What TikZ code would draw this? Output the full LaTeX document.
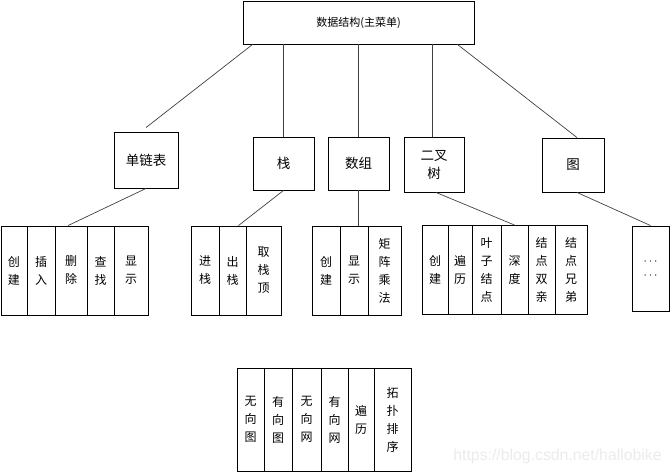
\documentclass[tikz,border=0pt]{standalone}
\usepackage{fontspec}
\newfontfamily\cjk{Noto Sans CJK SC}
\newfontfamily\wmfont{Liberation Sans}
\usetikzlibrary{positioning}
\tikzset{
topic/.style={shape=rectangle, draw, line width=0.9pt, inner sep=0, align=center, font=\cjk\fontsize{13.5}{18}\selectfont}, leaf/.style={topic, font=\cjk\fontsize{12}{18}\selectfont, minimum height=89pt}, link/.style={draw=black!75, line width=0.7pt}}

\begin{document}
\begin{tikzpicture}[x=1pt, y=-1pt]
\useasboundingbox (0,0) rectangle (672,474);
\node [topic, font=\cjk\fontsize{11}{14}\selectfont, minimum width=231pt, minimum height=43pt] at (358.5,22.5) (main) {数据结构(主菜单)};
\foreach \xc/\yc/\w/\h/\name/\txt in {146/160/64/56/sll/单链表, 283.5/163.5/61/53/stk/栈, 358.5/163.5/61/53/arr/数组, 434/164.5/60/55/tree/二叉\\树, 573/165/62/54/graph/图}
      \node [topic, minimum width=\w pt, minimum height=\h pt] at (\xc,\yc) (\name) {\txt};
\foreach \a/\b/\txt [count=\i, evaluate={\xc=(\a+\b)/2; \xw=\b-\a;}] in {1/27/创\\建, 27/55/插\\入, 55/87/删\\除, 87/114/查\\找, 114/148/显\\示}
      \node [leaf, minimum width=\xw pt] at (\xc,270.5) (sll-\i) {\txt};
\foreach \a/\b/\txt [count=\i, evaluate={\xc=(\a+\b)/2; \xw=\b-\a;}] in {191/219/进\\栈, 219/246/出\\栈, 246/281/取\\栈\\顶}
      \node [leaf, minimum width=\xw pt] at (\xc,270.5) (stk-\i) {\txt};
\foreach \a/\b/\txt [count=\i, evaluate={\xc=(\a+\b)/2; \xw=\b-\a;}] in {312/340/创\\建, 340/368/显\\示, 368/401/矩\\阵\\乘\\法}
      \node [leaf, minimum width=\xw pt] at (\xc,270.5) (arr-\i) {\txt};
\foreach \a/\b/\txt [count=\i, evaluate={\xc=(\a+\b)/2; \xw=\b-\a;}] in {422/448/创\\建, 448/472/遍\\历, 472/501/叶\\子\\结\\点, 501/528/深\\度, 528/555/结\\点\\双\\亲, 555/587/结\\点\\兄\\弟}
      \node [leaf, minimum width=\xw pt] at (\xc,270) (tree-\i) {\txt};
\node [leaf, minimum width=37pt, minimum height=85pt] at (650.5,268.5) (dots) {$\cdots$\\[-4pt]$\cdots$};
\foreach \a/\b/\txt [count=\i, evaluate={\xc=(\a+\b)/2; \xw=\b-\a;}] in {237/264/无\\向\\图, 264/292/有\\向\\图, 292/321/无\\向\\网, 321/348/有\\向\\网, 348/374/遍\\历, 374/411/拓\\扑\\排\\序}
      \node [leaf, minimum width=\xw pt, minimum height=103pt] at (\xc,419.5) (gop-\i) {\txt};
% links from the main menu
\draw [link] ([xshift=10pt]main.south west) -- ([yshift=4pt]sll.north);
\draw [link] (stk.north |- main.south) -- (stk.north);
\draw [link] (arr.north |- main.south) -- (arr.north);
\draw [link] ([xshift=-2pt]tree.north |- main.south) -- ([xshift=-2pt]tree.north);
\draw [link] ([xshift=-17pt]main.south east) -- ([xshift=4pt]graph.north);
% links to the operations
\draw [link] (sll.south) -- ([xshift=-3pt]sll-3.north);
\draw [link] (stk.south) -- ([xshift=6pt]stk-2.north);
\draw [link] (arr.south) -- (arr.south |- arr-2.north);
\draw [link] ([xshift=2pt]tree.south) -- (tree-4.north);
\draw [link] ([xshift=4pt]graph.south) -- (dots.north);
\node [font=\wmfont\fontsize{15.8}{18}\selectfont, text=black!8, inner sep=0] at (557.5,456) (wm) {https://blog.csdn.net/hallobike};
\end{tikzpicture}
\end{document}
